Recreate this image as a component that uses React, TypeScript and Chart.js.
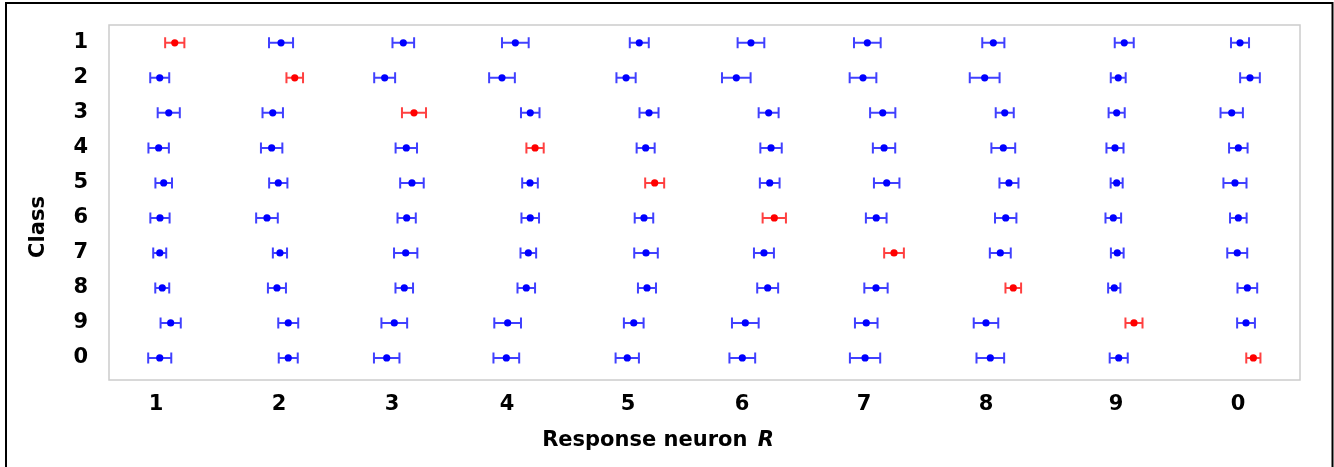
import React, { useEffect, useRef } from 'react';
import { Chart, registerables } from 'chart.js';

Chart.register(...registerables);

// Tick labels
const classLabels = ['1', '2', '3', '4', '5', '6', '7', '8', '9', '0'];
const neuronLabels = ['1', '2', '3', '4', '5', '6', '7', '8', '9', '0'];
const neuronTickPositions = [1, 2.023, 2.963, 3.92, 4.926, 5.874, 6.889, 7.904, 8.985, 10];

// Mean response position (per response neuron column) and half-width of the error bar, one pair per class row
const class1Mean = [1.156, 2.04, 3.057, 3.989, 5.02, 5.949, 6.917, 7.965, 9.054, 10.017];
const class1Err = [0.08, 0.1, 0.09, 0.111, 0.079, 0.111, 0.111, 0.092, 0.079, 0.075];
const class2Mean = [1.031, 2.154, 2.902, 3.878, 4.91, 5.827, 6.881, 7.893, 9.004, 10.1];
const class2Err = [0.079, 0.069, 0.087, 0.107, 0.08, 0.119, 0.111, 0.124, 0.062, 0.082];
const class3Mean = [1.106, 1.971, 3.146, 4.113, 5.101, 6.096, 7.045, 8.06, 8.991, 9.948];
const class3Err = [0.092, 0.085, 0.1, 0.077, 0.079, 0.083, 0.105, 0.075, 0.067, 0.093];
const class4Mean = [1.022, 1.962, 3.082, 4.153, 5.073, 6.116, 7.056, 8.048, 8.977, 10.003];
const class4Err = [0.085, 0.089, 0.089, 0.072, 0.075, 0.089, 0.093, 0.099, 0.071, 0.077];
const class5Mean = [1.064, 2.017, 3.129, 4.111, 5.148, 6.105, 7.078, 8.095, 8.991, 9.975];
const class5Err = [0.069, 0.076, 0.098, 0.065, 0.079, 0.082, 0.106, 0.079, 0.05, 0.096];
const class6Mean = [1.033, 1.923, 3.085, 4.113, 5.059, 6.143, 6.991, 8.068, 8.963, 10.003];
const class6Err = [0.08, 0.09, 0.076, 0.073, 0.077, 0.097, 0.086, 0.089, 0.065, 0.069];
const class7Mean = [1.031, 2.031, 3.077, 4.097, 5.076, 6.057, 7.139, 8.023, 8.996, 9.994];
const class7Err = [0.054, 0.059, 0.097, 0.065, 0.098, 0.083, 0.082, 0.087, 0.053, 0.083];
const class8Mean = [1.052, 2.006, 3.065, 4.08, 5.084, 6.088, 6.989, 8.131, 8.971, 10.078];
const class8Err = [0.058, 0.075, 0.073, 0.073, 0.075, 0.087, 0.097, 0.065, 0.051, 0.082];
const class9Mean = [1.122, 2.1, 2.982, 3.925, 4.974, 5.902, 6.908, 7.904, 9.135, 10.067];
const class9Err = [0.084, 0.083, 0.107, 0.111, 0.082, 0.111, 0.094, 0.102, 0.071, 0.074];
const class0Mean = [1.031, 2.1, 2.919, 3.914, 4.92, 5.877, 6.898, 7.94, 9.008, 10.128];
const class0Err = [0.096, 0.079, 0.106, 0.107, 0.097, 0.107, 0.126, 0.115, 0.075, 0.059];

const rowMeans = [class1Mean, class2Mean, class3Mean, class4Mean, class5Mean, class6Mean, class7Mean, class8Mean, class9Mean, class0Mean];
const rowErrs = [class1Err, class2Err, class3Err, class4Err, class5Err, class6Err, class7Err, class8Err, class9Err, class0Err];

const FONT = '"DejaVu Sans", sans-serif';

const errorBarPlugin = {
  id: 'errorBars',
  beforeDatasetsDraw(chart: any) {
    const ctx = chart.ctx;
    const xs = chart.scales.x;
    const ys = chart.scales.y;
    chart.data.datasets.forEach((ds: any) => {
      ctx.save();
      ctx.strokeStyle = ds.errorColor;
      ctx.lineWidth = 2;
      ds.data.forEach((p: any) => {
        const y = ys.getPixelForValue(p.y);
        const x0 = xs.getPixelForValue(p.x - p.err);
        const x1 = xs.getPixelForValue(p.x + p.err);
        ctx.beginPath();
        ctx.moveTo(x0, y);
        ctx.lineTo(x1, y);
        ctx.moveTo(x0, y - 5.5);
        ctx.lineTo(x0, y + 5.5);
        ctx.moveTo(x1, y - 5.5);
        ctx.lineTo(x1, y + 5.5);
        ctx.stroke();
      });
      ctx.restore();
    });
  },
};

const framePlugin = {
  id: 'frame',
  beforeDraw(chart: any) {
    const ctx = chart.ctx;
    const a = chart.chartArea;
    ctx.save();
    ctx.fillStyle = '#ffffff';
    ctx.fillRect(0, 0, chart.width, chart.height);
    ctx.strokeStyle = '#000000';
    ctx.lineWidth = 2;
    ctx.strokeRect(6, 3, 1326.5, 500);
    ctx.strokeStyle = '#cccccc';
    ctx.lineWidth = 1.5;
    ctx.strokeRect(a.left, a.top, a.right - a.left, a.bottom - a.top);
    ctx.restore();
  },
};

const titlesPlugin = {
  id: 'titles',
  afterDraw(chart: any) {
    const ctx = chart.ctx;
    ctx.save();
    ctx.fillStyle = '#000000';
    ctx.textBaseline = 'middle';
    // x title
    const main = 'Response neuron ';
    const ital = 'R';
    ctx.font = 'bold 21px ' + FONT;
    const w1 = ctx.measureText(main).width;
    ctx.font = 'italic bold 21px ' + FONT;
    const w2 = ctx.measureText(ital).width;
    const left = 658 - (w1 + w2 + 3) / 2;
    ctx.font = 'bold 21px ' + FONT;
    ctx.textAlign = 'left';
    ctx.fillText(main, left, 441);
    ctx.font = 'italic bold 21px ' + FONT;
    ctx.fillText(ital, left + w1 + 3, 441);
    // y title
    ctx.font = 'bold 21px ' + FONT;
    ctx.textAlign = 'center';
    ctx.translate(39, 227);
    ctx.rotate(-Math.PI / 2);
    ctx.fillText('Class', 0, 0);
    ctx.restore();
  },
};

export default function App() {
  const ref = useRef<HTMLCanvasElement | null>(null);

  useEffect(() => {
    if (!ref.current) return;
    const bluePts: any[] = [];
    const redPts: any[] = [];
    rowMeans.forEach((means, r) => {
      means.forEach((m, c) => {
        const pt = { x: m, y: r + 1, err: rowErrs[r][c] };
        if (r === c) redPts.push(pt);
        else bluePts.push(pt);
      });
    });

    const chart = new Chart(ref.current, {
      type: 'scatter',
      data: {
        datasets: [
          {
            label: 'off',
            data: bluePts,
            backgroundColor: '#0000ff',
            borderWidth: 0,
            pointRadius: 3.6,
            errorColor: 'rgba(0,0,255,0.75)',
          } as any,
          {
            label: 'diag',
            data: redPts,
            backgroundColor: '#ff0000',
            borderWidth: 0,
            pointRadius: 3.6,
            errorColor: 'rgba(255,0,0,0.75)',
          } as any,
        ],
      },
      options: {
        animation: false,
        responsive: false,
        layout: { padding: { top: 25, right: 34, bottom: 0, left: 0 } },
        plugins: { legend: { display: false }, tooltip: { enabled: false } },
        scales: {
          x: {
            type: 'linear',
            min: 0.609,
            max: 10.516,
            grid: { display: false, drawTicks: false },
            border: { display: false },
            afterBuildTicks: (scale: any) => {
              scale.ticks = neuronTickPositions.map((v) => ({ value: v }));
            },
            afterFit: (scale: any) => {
              scale.height = 87;
              scale.paddingLeft = 0;
              scale.paddingRight = 0;
            },
            ticks: {
              autoSkip: false,
              maxRotation: 0,
              padding: 12,
              color: '#000000',
              font: { family: FONT, size: 21, weight: 'bold' },
              callback: (_v: any, i: number) => neuronLabels[i],
            },
          },
          y: {
            type: 'linear',
            reverse: true,
            min: 0.49,
            max: 10.63,
            grid: { display: false, drawTicks: false },
            border: { display: false },
            afterBuildTicks: (scale: any) => {
              scale.ticks = classLabels.map((_l, i) => ({ value: i + 1 }));
            },
            afterFit: (scale: any) => {
              scale.width = 109;
              scale.paddingTop = 0;
              scale.paddingBottom = 0;
            },
            ticks: {
              autoSkip: false,
              padding: 21,
              color: '#000000',
              font: { family: FONT, size: 21, weight: 'bold' },
              callback: (_v: any, i: number) => classLabels[i],
            },
          },
        },
      } as any,
      plugins: [framePlugin, errorBarPlugin, titlesPlugin],
    });
    return () => chart.destroy();
  }, []);

  return (
    <div style={{ position: 'absolute', left: 0, top: 0, width: 1334, height: 467 }}>
      <canvas ref={ref} width={1334} height={467} style={{ display: 'block' }} />
    </div>
  );
}
